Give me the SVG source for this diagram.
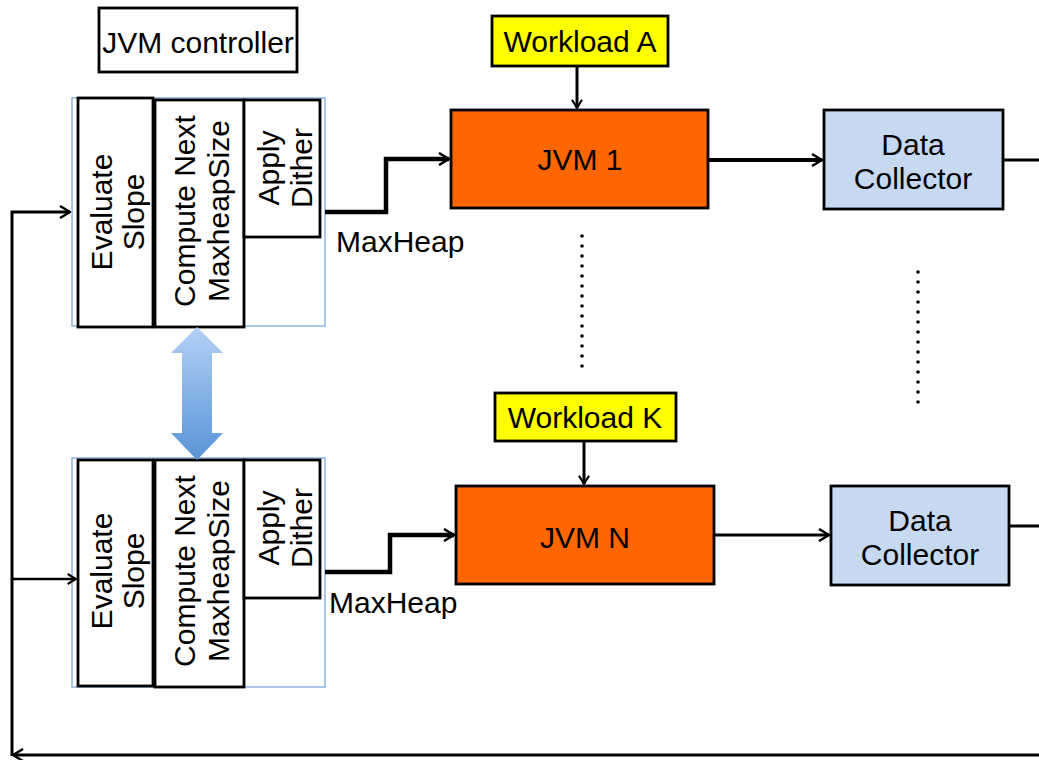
<svg xmlns="http://www.w3.org/2000/svg" width="1039" height="760" viewBox="0 0 1039 760">
  <style>
    text { font-family: "Liberation Sans", Arial, sans-serif; font-size: 30px; fill: #000; }
    .mid { text-anchor: middle; }
    .frame { fill: #fff; stroke: #8DB3E2; stroke-width: 1.5; }
    .blk { fill: #fff; stroke: #000; stroke-width: 2.8; }
    .jvm { fill: #FF6600; stroke: #000; stroke-width: 2.8; }
    .wl { fill: #FFFF00; stroke: #000; stroke-width: 2.8; }
    .dc { fill: #C6D9F1; stroke: #000; stroke-width: 2.8; }
    .ln { fill: none; stroke: #000; stroke-linejoin: miter; }
    .dot { fill: #000; }
  </style>
  <defs>
    <marker id="arr" viewBox="0 0 12 14" refX="11" refY="7" markerWidth="12" markerHeight="14" markerUnits="userSpaceOnUse" orient="auto">
      <path d="M1,1 L11,7 L1,13" fill="none" stroke="#000" stroke-width="2.5"/>
    </marker>
    <marker id="arrS" viewBox="0 0 12 14" refX="11" refY="7" markerWidth="10" markerHeight="12" markerUnits="userSpaceOnUse" orient="auto">
      <path d="M1,1 L11,7 L1,13" fill="none" stroke="#000" stroke-width="2.5"/>
    </marker>
    <linearGradient id="blueArrow" x1="0" y1="0" x2="0" y2="1">
      <stop offset="0" stop-color="#B3D0F6"/>
      <stop offset="1" stop-color="#5894D6"/>
    </linearGradient>
  </defs>

  <!-- title -->
  <g id="title">
    <rect x="99" y="8" width="198" height="64" class="blk"/>
    <text x="198" y="53" class="mid">JVM controller</text>
  </g>

  <!-- controller for JVM 1 -->
  <g id="ctrl1">
    <rect x="72" y="98" width="253" height="228" class="frame"/>
    <rect x="78" y="98" width="75" height="229" class="blk"/>
    <rect x="155" y="100" width="89" height="227" class="blk"/>
    <rect x="244" y="100" width="76" height="137" class="blk"/>
    <text transform="translate(112,212) rotate(-90)" class="mid">Evaluate</text>
    <text transform="translate(144,212) rotate(-90)" class="mid">Slope</text>
    <text transform="translate(195,211) rotate(-90)" class="mid">Compute Next</text>
    <text transform="translate(229,211) rotate(-90)" class="mid">MaxheapSize</text>
    <text transform="translate(279,168) rotate(-90)" class="mid">Apply</text>
    <text transform="translate(312,168) rotate(-90)" class="mid">Dither</text>
  </g>

  <!-- controller for JVM N -->
  <g id="ctrlN">
    <rect x="72" y="458" width="253" height="229" class="frame"/>
    <rect x="78" y="460" width="75" height="226" class="blk"/>
    <rect x="155" y="460" width="89" height="227" class="blk"/>
    <rect x="244" y="460" width="76" height="138" class="blk"/>
    <text transform="translate(112,571) rotate(-90)" class="mid">Evaluate</text>
    <text transform="translate(144,571) rotate(-90)" class="mid">Slope</text>
    <text transform="translate(195,571) rotate(-90)" class="mid">Compute Next</text>
    <text transform="translate(229,571) rotate(-90)" class="mid">MaxheapSize</text>
    <text transform="translate(279,528) rotate(-90)" class="mid">Apply</text>
    <text transform="translate(312,528) rotate(-90)" class="mid">Dither</text>
  </g>

  <!-- coordination between controllers -->
  <g id="coord">
    <path d="M197,327 L223,353 L212,353 L212,433 L223,433 L197,460 L171,433 L182,433 L182,353 L171,353 Z" fill="url(#blueArrow)"/>
  </g>

  <g id="workloadA">
    <rect x="492" y="16" width="176" height="50" class="wl"/>
    <text x="580" y="52" class="mid">Workload A</text>
  </g>
  <g id="jvm1">
    <rect x="451" y="110" width="257" height="98" class="jvm"/>
    <text x="580" y="170" class="mid">JVM 1</text>
  </g>
  <g id="collector1">
    <rect x="824" y="110" width="179" height="99" class="dc"/>
    <text x="913" y="155" class="mid">Data</text>
    <text x="913" y="189" class="mid">Collector</text>
  </g>

  <g id="workloadK">
    <rect x="495" y="393" width="181" height="48" class="wl"/>
    <text x="585" y="428" class="mid">Workload K</text>
  </g>
  <g id="jvmN">
    <rect x="456" y="486" width="258" height="98" class="jvm"/>
    <text x="585" y="548" class="mid">JVM N</text>
  </g>
  <g id="collectorN">
    <rect x="831" y="486" width="178" height="99" class="dc"/>
    <text x="920" y="531" class="mid">Data</text>
    <text x="920" y="565" class="mid">Collector</text>
  </g>

  <!-- ellipsis between JVM instances -->
  <g id="ellipsis">
    <g class="dot">
      <circle cx="582" cy="236" r="1.8"/><circle cx="582" cy="246" r="1.8"/><circle cx="582" cy="256" r="1.8"/>
      <circle cx="582" cy="266" r="1.8"/><circle cx="582" cy="276" r="1.8"/><circle cx="582" cy="286" r="1.8"/>
      <circle cx="582" cy="296" r="1.8"/><circle cx="582" cy="306" r="1.8"/><circle cx="582" cy="316" r="1.8"/>
      <circle cx="582" cy="326" r="1.8"/><circle cx="582" cy="336" r="1.8"/><circle cx="582" cy="346" r="1.8"/>
      <circle cx="582" cy="356" r="1.8"/><circle cx="582" cy="366" r="1.8"/>
      <circle cx="918" cy="272" r="1.8"/><circle cx="918" cy="282" r="1.8"/><circle cx="918" cy="292" r="1.8"/>
      <circle cx="918" cy="302" r="1.8"/><circle cx="918" cy="312" r="1.8"/><circle cx="918" cy="322" r="1.8"/>
      <circle cx="918" cy="332" r="1.8"/><circle cx="918" cy="342" r="1.8"/><circle cx="918" cy="352" r="1.8"/>
      <circle cx="918" cy="362" r="1.8"/><circle cx="918" cy="372" r="1.8"/><circle cx="918" cy="382" r="1.8"/>
      <circle cx="918" cy="392" r="1.8"/><circle cx="918" cy="402" r="1.8"/>
    </g>
  </g>

  <!-- connectors -->
  <g id="connectors">
    <line x1="577" y1="66" x2="577" y2="108" class="ln" stroke-width="3" marker-end="url(#arrS)"/>
    <line x1="708" y1="160" x2="822" y2="160" class="ln" stroke-width="4" marker-end="url(#arr)"/>
    <line x1="1003" y1="160" x2="1039" y2="160" class="ln" stroke-width="3"/>
    <polyline points="325,212 386,212 386,159 449,159" class="ln" stroke-width="4.5" marker-end="url(#arr)"/>

    <line x1="584" y1="441" x2="584" y2="484" class="ln" stroke-width="3" marker-end="url(#arrS)"/>
    <line x1="714" y1="535" x2="829" y2="535" class="ln" stroke-width="3" marker-end="url(#arr)"/>
    <line x1="1009" y1="526" x2="1039" y2="526" class="ln" stroke-width="3"/>
    <polyline points="325,572 390,572 390,535 454,535" class="ln" stroke-width="4.5" marker-end="url(#arr)"/>

    <line x1="1039" y1="755" x2="13" y2="755" class="ln" stroke-width="3" marker-end="url(#arr)"/>
    <polyline points="12,756 12,212 70,212" class="ln" stroke-width="3" marker-end="url(#arr)"/>
    <line x1="12" y1="579" x2="76" y2="579" class="ln" stroke-width="2.5" marker-end="url(#arrS)"/>
  </g>

  <g id="labels">
    <text x="336" y="252">MaxHeap</text>
    <text x="329" y="613">MaxHeap</text>
  </g>
</svg>
